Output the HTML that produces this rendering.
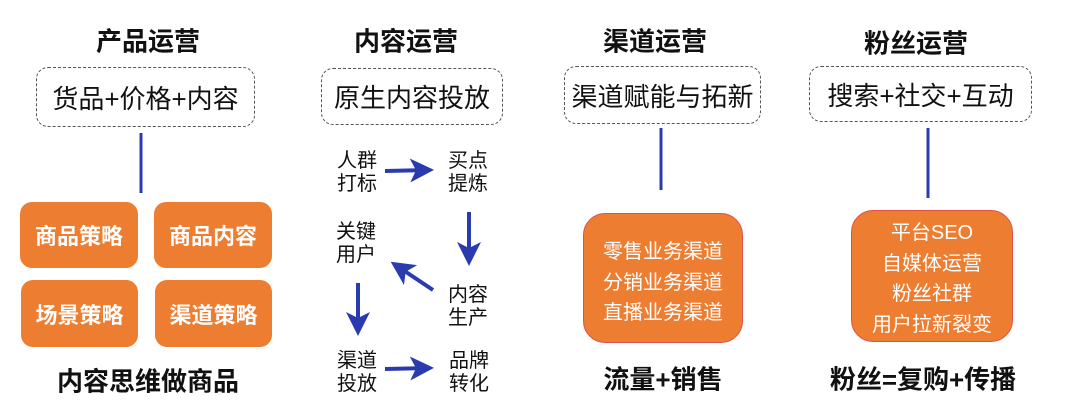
<!DOCTYPE html>
<html><head><meta charset="utf-8"><style>
*{margin:0;padding:0;box-sizing:border-box}
body{width:1080px;height:419px;background:#fff;position:relative;overflow:hidden;font-family:"Liberation Sans","Noto Sans CJK SC",sans-serif;color:#111}
.t{position:absolute;text-align:center;white-space:nowrap;transform:translate(-50%,-50%);font-weight:bold;font-size:26px}
.d{position:absolute;border:1.5px dashed #555;border-radius:12px;display:flex;align-items:center;justify-content:center;font-size:26px;white-space:nowrap}
.o{position:absolute;background:#ed7d31;border-radius:12px;color:#fff;font-weight:bold;font-size:22px;display:flex;align-items:center;justify-content:center}
.ob{position:absolute;background:#ed7d31;border:1.5px solid #e0504a;border-radius:22px;color:#fff;font-size:20px;display:flex;flex-direction:column;align-items:center;justify-content:center;line-height:30.5px}
.l{position:absolute;font-size:20px;line-height:23px;width:44px}
</style></head><body>
<div class="t" style="left:148px;top:40px">产品运营</div>
<div class="t" style="left:406px;top:40px">内容运营</div>
<div class="t" style="left:655px;top:40px">渠道运营</div>
<div class="t" style="left:916px;top:42px">粉丝运营</div>

<div class="d" style="left:36px;top:67px;width:219px;height:60px">货品+价格+内容</div>
<div class="d" style="left:321px;top:68px;width:182px;height:57px">原生内容投放</div>
<div class="d" style="left:564px;top:66px;width:197px;height:58px">渠道赋能与拓新</div>
<div class="d" style="left:809px;top:66px;width:223px;height:56px">搜索+社交+互动</div>

<div class="o" style="left:20px;top:202px;width:118px;height:66px">商品策略</div>
<div class="o" style="left:154px;top:202px;width:118px;height:66px">商品内容</div>
<div class="o" style="left:21px;top:280px;width:117px;height:67px">场景策略</div>
<div class="o" style="left:155px;top:280px;width:117px;height:67px">渠道策略</div>

<div class="ob" style="left:583px;top:213px;width:160px;height:130px;padding-top:10px"><div>零售业务渠道</div><div>分销业务渠道</div><div>直播业务渠道</div></div>
<div class="ob" style="left:851px;top:210px;width:162px;height:132px;padding-top:6px"><div>平台SEO</div><div>自媒体运营</div><div>粉丝社群</div><div>用户拉新裂变</div></div>

<div class="t" style="left:148px;top:380px">内容思维做商品</div>
<div class="t" style="left:663px;top:378px">流量+销售</div>
<div class="t" style="left:923px;top:378px">粉丝=复购+传播</div>

<div class="l" style="left:337px;top:150px">人群<br>打标</div>
<div class="l" style="left:448px;top:150px">买点<br>提炼</div>
<div class="l" style="left:336px;top:221px">关键<br>用户</div>
<div class="l" style="left:448px;top:284px">内容<br>生产</div>
<div class="l" style="left:337px;top:350px">渠道<br>投放</div>
<div class="l" style="left:449px;top:350px">品牌<br>转化</div>

<svg width="1080" height="419" style="position:absolute;left:0;top:0">
<defs><marker id="a" markerWidth="6" markerHeight="6" refX="5" refY="3" orient="auto" markerUnits="strokeWidth"><path d="M0,0L6,3L0,6L1.5,3z" fill="#2a3bb0"/></marker></defs>
<g stroke="#2a3bb0" stroke-width="3">
<line x1="141" y1="133" x2="141" y2="193"/>
<line x1="661" y1="128" x2="661" y2="190"/>
<line x1="928" y1="128" x2="928" y2="198"/>
</g>
<g stroke="#2a3bb0" stroke-width="4" marker-end="url(#a)">
<line x1="385" y1="171" x2="430" y2="170"/>
<line x1="469" y1="212" x2="469" y2="262"/>
<line x1="433" y1="290" x2="394" y2="264"/>
<line x1="358" y1="283" x2="358" y2="332"/>
<line x1="385" y1="369" x2="430" y2="368"/>
</g>
</svg>
</body></html>
